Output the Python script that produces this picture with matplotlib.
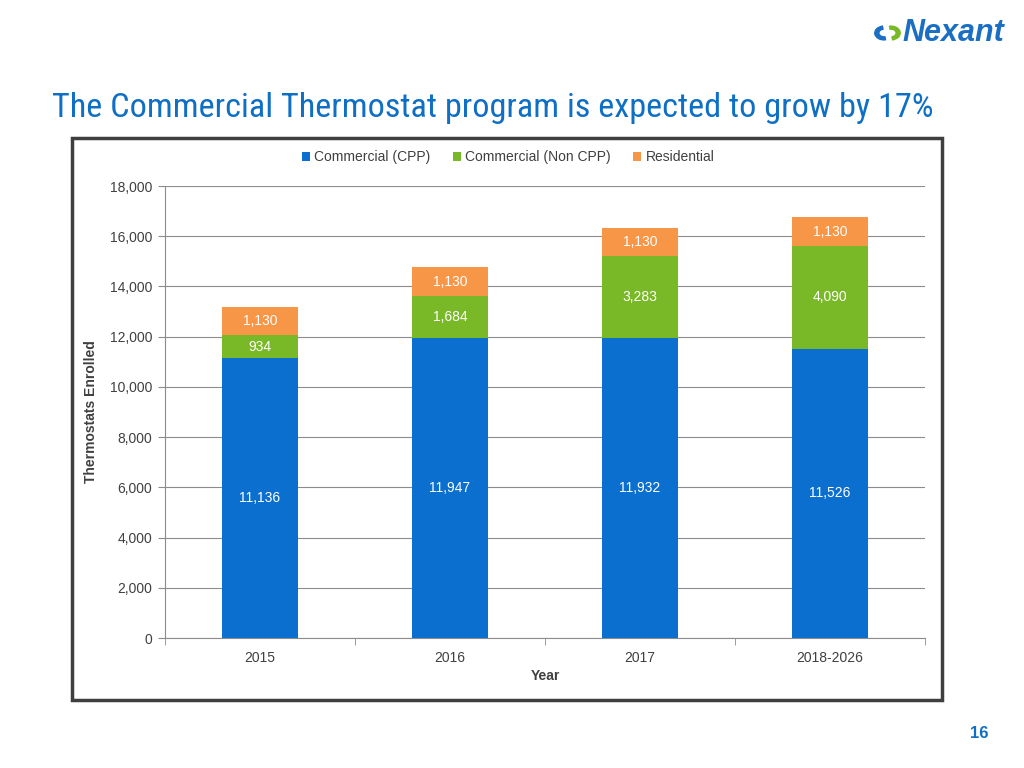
import matplotlib
matplotlib.use("Agg")
import matplotlib.pyplot as plt
from matplotlib.patches import Rectangle, Wedge
from matplotlib import font_manager
from matplotlib.ticker import FuncFormatter, FixedLocator

years = ["2015", "2016", "2017", "2018-2026"]
commercial_cpp = [11136, 11947, 11932, 11526]
commercial_non_cpp = [934, 1684, 3283, 4090]
residential = [1130, 1130, 1130, 1130]
series_names = ["Commercial (CPP)", "Commercial (Non CPP)", "Residential"]

c_cpp = "#0A6FCF"
c_non = "#79B928"
c_res = "#F79646"
txt = "#404040"
blue_title = "#0E6FC4"

fonts = font_manager.fontManager.ttflist
names = {f.name for f in fonts}
base = "Liberation Sans" if "Liberation Sans" in names else "DejaVu Sans"
plt.rcParams["font.family"] = [base, "DejaVu Sans"]

title_family = None
title_stretch = "normal"
for cand in ["Liberation Sans Narrow", "Roboto Condensed", "Open Sans Condensed", "Noto Sans Condensed"]:
    if cand in names:
        title_family = cand
        break
if title_family is None:
    for f in fonts:
        if f.name in ("Noto Sans", "DejaVu Sans", "Open Sans", "Roboto") and str(f.stretch) in ("condensed", "semi-condensed", "75", "87.5"):
            title_family = f.name
            title_stretch = f.stretch
            break
if title_family is None:
    title_family = base

fig = plt.figure(figsize=(10.24, 7.68), dpi=100)
W, H = 1024, 768

def fx(px):
    return px / W

def fy(py):
    return 1 - py / H

# frame around chart
fig.patches.append(Rectangle((fx(72), fy(700)), fx(942) - fx(72), fy(138) - fy(700),
                             transform=fig.transFigure, fill=False,
                             edgecolor="#3F3F3F", linewidth=2.5, zorder=0))

ax = fig.add_axes([fx(165), fy(638), fx(925) - fx(165), fy(186) - fy(638)])
x = list(range(len(years)))
w = 0.4
b1 = ax.bar(x, commercial_cpp, w, color=c_cpp, label=series_names[0], zorder=3)
bottom2 = commercial_cpp
b2 = ax.bar(x, commercial_non_cpp, w, bottom=bottom2, color=c_non, label=series_names[1], zorder=3)
bottom3 = [a + b for a, b in zip(commercial_cpp, commercial_non_cpp)]
b3 = ax.bar(x, residential, w, bottom=bottom3, color=c_res, label=series_names[2], zorder=3)

for bars in (b1, b2, b3):
    ax.bar_label(bars, labels=[f"{int(v):,}" for v in bars.datavalues],
                 label_type="center", color="white", fontsize=10)

ax.set_xlim(-0.5, 3.5)
ax.set_ylim(0, 18000)
ax.set_yticks(range(0, 18001, 2000))
ax.yaxis.set_major_formatter(FuncFormatter(lambda v, p: f"{int(v):,}"))
ax.grid(axis="y", color="#8C8C8C", linewidth=0.8, zorder=0)
ax.set_xticks(x)
ax.set_xticklabels(years)
ax.xaxis.set_minor_locator(FixedLocator([-0.5, 0.5, 1.5, 2.5, 3.5]))
ax.tick_params(axis="x", which="major", length=0, pad=9, labelsize=10, labelcolor=txt)
ax.tick_params(axis="x", which="minor", length=5, color="#8C8C8C", direction="out")
ax.tick_params(axis="y", length=5, color="#8C8C8C", labelsize=10, labelcolor=txt, pad=4)
for s in ("top", "right"):
    ax.spines[s].set_visible(False)
ax.spines["left"].set_color("#8C8C8C")
ax.spines["bottom"].set_color("#8C8C8C")
ax.set_xlabel("Year", fontsize=10, fontweight="bold", color=txt)
ax.xaxis.set_label_coords(0.5, -(669 - 638) / 452)
ax.set_ylabel("Thermostats Enrolled", fontsize=10, fontweight="bold", color=txt)
ax.yaxis.set_label_coords(-(165 - 98) / 760, 0.5)

leg = fig.legend(handles=[b1, b2, b3], labels=series_names, loc="center",
                 bbox_to_anchor=(fx(508), fy(157)), ncol=3, frameon=False,
                 fontsize=10, handlelength=0.6, handleheight=0.6, handletextpad=0.3,
                 columnspacing=1.6)
for t in leg.get_texts():
    t.set_color(txt)

title = fig.text(fx(52), fy(108), "The Commercial Thermostat program is expected to grow by 17%",
                 family=[title_family, "DejaVu Sans"], fontstretch=title_stretch,
                 fontsize=27, color=blue_title, va="center", ha="left")
# fit title width to the reference (52 -> 933 px)
fig.canvas.draw()
bb = title.get_window_extent()
target = 881
if bb.width > 0:
    title.set_fontsize(min(27, 27 * target / bb.width))

fig.text(fx(1004), fy(33), "Nexant", fontsize=22, fontweight="bold", style="italic",
         color="#1A6FC4", ha="right", va="center")
# small logo mark
fig.patches.append(Wedge((fx(884), fy(33)), 0.009, 100, 280, width=0.004,
                         transform=fig.transFigure, color="#1A6FC4"))
fig.patches.append(Wedge((fx(891), fy(33)), 0.009, -80, 100, width=0.004,
                         transform=fig.transFigure, color="#79B928"))
fig.text(fx(979), fy(734), "16", fontsize=12, fontweight="bold", color=blue_title,
         ha="center", va="center")

fig.savefig("out.png", dpi=100)
